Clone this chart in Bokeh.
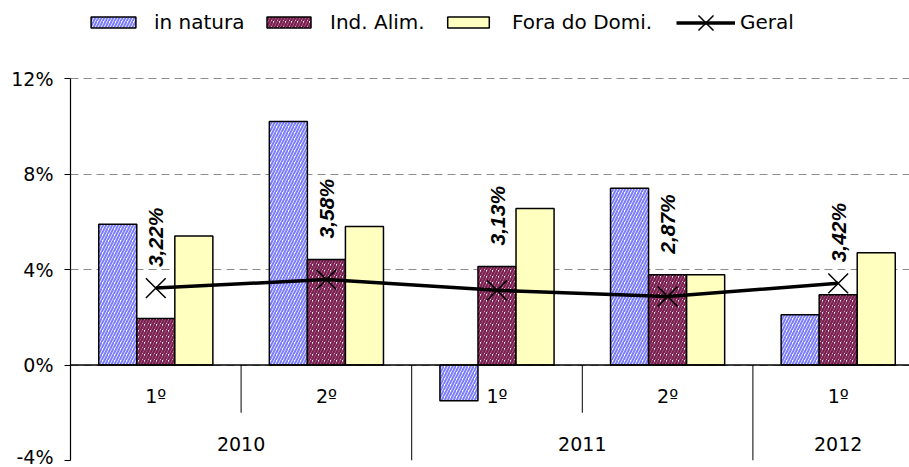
import numpy as np
from bokeh.plotting import figure
from bokeh.models import ColumnDataSource, Range1d, FixedTicker, Span, Legend, LegendItem
from bokeh.core.properties import value
from bokeh.embed import file_html
from bokeh.resources import INLINE

# ---- data ----
periods = ["1º", "2º", "1º", "2º", "1º"]
years = ["2010", "2010", "2011", "2011", "2012"]
in_natura = [5.9, 10.2, -1.5, 7.4, 2.1]
ind_alim = [1.95, 4.42, 4.13, 3.78, 2.94]
fora_domi = [5.4, 5.8, 6.55, 3.78, 4.7]
geral = [3.22, 3.58, 3.13, 2.87, 3.42]
series_names = ["in natura", "Ind. Alim.", "Fora do Domi.", "Geral"]
y_ticks = [-4, 0, 4, 8, 12]
y_tick_labels = ["-4%", "0%", "4%", "8%", "12%"]

# ---- layout constants (pixels) ----
W, H = 909, 467
LEFT, BOTTOM_BORDER = 70, 7
TOP_TICK_PX = 78          # screen y of the 12% line
GROUP_PX = 170.6          # width of one category group
LEGEND_CY = 22            # screen y of the legend row centre
frame_h = H - BOTTOM_BORDER
ppu = (frame_h - TOP_TICK_PX) / (y_ticks[-1] - y_ticks[0])
y_top = y_ticks[-1] + TOP_TICK_PX / ppu
x_end = (W - LEFT) / GROUP_PX

n = len(periods)
centers = np.arange(n) + 0.5
bar_w = 0.223

p = figure(width=W, height=H, x_range=Range1d(0, x_end), y_range=Range1d(y_ticks[0], y_top),
           output_backend="svg", toolbar_location=None, x_axis_location=None,
           min_border_left=LEFT, min_border_right=0, min_border_top=0,
           min_border_bottom=BOTTOM_BORDER)
p.outline_line_color = None
p.background_fill_color = "white"
p.border_fill_color = "white"
p.xgrid.visible = False
p.ygrid.ticker = FixedTicker(ticks=y_ticks)
p.ygrid.grid_line_color = "#8c8c8c"
p.ygrid.grid_line_dash = "8 5"
p.ygrid.grid_line_width = 1

p.yaxis.ticker = FixedTicker(ticks=y_ticks)
p.yaxis.bounds = (y_ticks[0], y_ticks[-1])
p.yaxis.major_label_overrides = {t: l for t, l in zip(y_ticks, y_tick_labels)}
p.yaxis.major_label_text_font = "DejaVu Sans"
p.yaxis.major_label_text_font_size = "19px"
p.yaxis.major_label_text_color = "black"
p.yaxis.axis_line_color = "black"
p.yaxis.axis_line_width = 1.2
p.yaxis.major_tick_line_color = "black"
p.yaxis.major_tick_out = 6
p.yaxis.major_tick_in = 0
p.yaxis.minor_tick_line_color = None
p.yaxis.major_label_standoff = 11

src = ColumnDataSource(dict(
    xb=centers - bar_w, xm=centers, xy=centers + bar_w,
    natura=in_natura, ind=ind_alim, fora=fora_domi,
))

r1 = p.vbar(x="xb", top="natura", bottom=0, width=bar_w, source=src,
            fill_color="white", hatch_pattern="/", hatch_color="#7b7bff",
            hatch_scale=6, hatch_weight=2, line_color="black", line_width=1.5)
r2 = p.vbar(x="xm", top="ind", bottom=0, width=bar_w, source=src,
            fill_color="white", hatch_pattern="/", hatch_color="#7a1f4f",
            hatch_scale=6, hatch_weight=2.5, line_color="black", line_width=1.5)
r3 = p.vbar(x="xy", top="fora", bottom=0, width=bar_w, source=src,
            fill_color="#ffffc0", line_color="black", line_width=1.5)

# zero axis line
p.add_layout(Span(location=0, dimension="width", line_color="black", line_width=1.3))

# category separators
sep_x, sep_y = [], []
for i in range(1, n):
    sep_x.append(float(i))
    sep_y.append(float(y_ticks[0]) if years[i] != years[i - 1] else -2.0)
p.segment(x0=sep_x, y0=[0.0] * len(sep_x), x1=sep_x, y1=sep_y, line_color="black", line_width=1)

# category labels
p.text(x=centers, y=[-1.3] * n, text=periods, text_align="center", text_baseline="middle",
       text_font=value("DejaVu Sans"), text_font_size="19px", text_color="black")
uniq_years = []
for yv in years:
    if yv not in uniq_years:
        uniq_years.append(yv)
year_x = [float(np.mean([c for c, yy in zip(centers, years) if yy == u])) for u in uniq_years]
p.text(x=year_x, y=[-3.3] * len(year_x), text=uniq_years, text_align="center", text_baseline="middle",
       text_font=value("DejaVu Sans"), text_font_size="19px", text_color="black")

# Geral line
r4l = p.line(centers, geral, line_color="black", line_width=3.5)
r4m = p.scatter(centers, geral, marker="x", size=28, line_color="black", line_width=1.5)

labels = [f"{v:.2f}%".replace(".", ",") for v in geral]
p.text(x=centers, y=np.maximum(geral, ind_alim), text=labels, angle=np.pi / 2,
       text_align="left", text_baseline="middle", y_offset=-21,
       text_font=value("Liberation Sans"), text_font_style="bold italic",
       text_font_size="21px", text_color="black")

# legend: one box per entry, placed in the free band above the 12% line
leg_renderers = [[r1], [r2], [r3], [r4l, r4m]]
leg_x = [15, 191, 372, 606]
leg_gw = [56, 55, 52, 59]
leg_gh = [14, 14, 14, 53]
leg_standoff = [13, 14, 18, 5]
for name, rends, lx, gw, gh, so in zip(series_names, leg_renderers, leg_x, leg_gw, leg_gh, leg_standoff):
    box_h = max(gh, 24)
    lg = Legend(items=[LegendItem(label=name, renderers=rends)],
                orientation="horizontal",
                location=(lx, frame_h - LEGEND_CY - box_h / 2), padding=0, margin=0,
                border_line_alpha=0, background_fill_alpha=0,
                glyph_width=gw, glyph_height=gh, label_standoff=so, spacing=0,
                label_text_font="DejaVu Sans", label_text_font_size="20px",
                label_text_color="black")
    p.add_layout(lg)

open("out.html", "w").write(file_html(p, INLINE))
